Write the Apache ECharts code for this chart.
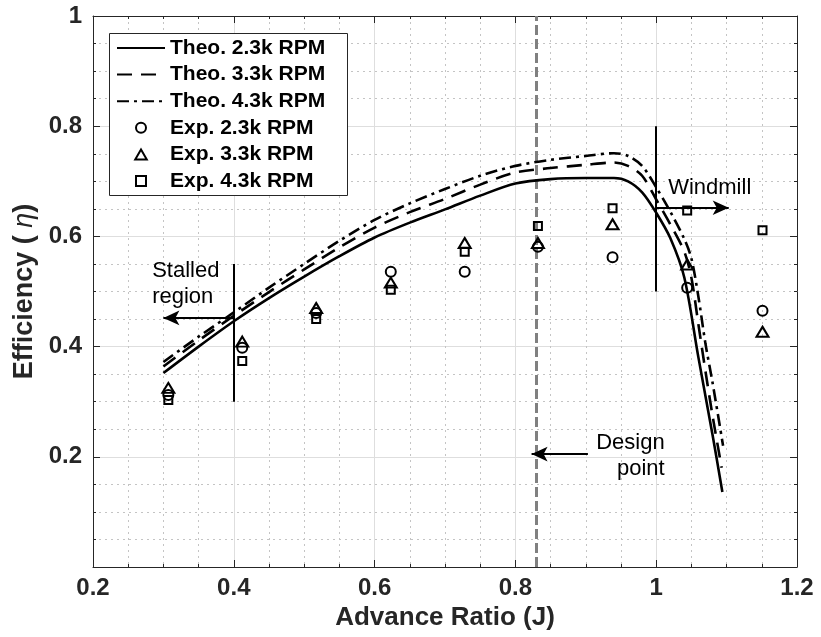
<!DOCTYPE html>
<html>
<head>
<meta charset="utf-8">
<script src="https://cdn.jsdelivr.net/npm/echarts@6/dist/echarts.min.js"></script>
<style>html,body{margin:0;padding:0;background:#fff}#c{width:821px;height:637px}</style>
</head>
<body>
<div id="c"></div>
<script>
// ---- data ----
const J_THEO_23 = [0.30,0.35,0.40,0.45,0.50,0.55,0.60,0.65,0.70,0.75,0.80,0.85,0.90,0.94,0.96,0.98,1.00,1.02,1.04,1.06,1.08,1.094];
const ETA_THEO_23 = [0.352,0.400,0.446,0.488,0.527,0.564,0.598,0.625,0.649,0.674,0.696,0.704,0.706,0.706,0.700,0.680,0.643,0.597,0.525,0.380,0.240,0.136];
const J_THEO_33 = [0.30,0.35,0.40,0.45,0.50,0.55,0.60,0.65,0.70,0.75,0.80,0.85,0.90,0.94,0.96,0.98,1.00,1.02,1.04,1.05,1.06,1.07,1.08,1.093];
const ETA_THEO_33 = [0.364,0.411,0.456,0.499,0.540,0.580,0.616,0.644,0.668,0.694,0.716,0.724,0.730,0.734,0.728,0.710,0.667,0.622,0.572,0.525,0.440,0.355,0.275,0.180];
const J_THEO_43 = [0.30,0.35,0.40,0.45,0.50,0.55,0.60,0.65,0.70,0.75,0.80,0.85,0.90,0.94,0.96,0.98,1.00,1.02,1.04,1.05,1.06,1.07,1.08,1.095];
const ETA_THEO_43 = [0.372,0.418,0.462,0.507,0.550,0.592,0.630,0.660,0.686,0.710,0.728,0.739,0.746,0.751,0.746,0.728,0.689,0.645,0.595,0.560,0.490,0.405,0.335,0.220];

const J_EXP = [0.307,0.412,0.517,0.623,0.728,0.832,0.938,1.044,1.151];
const ETA_EXP_23 = [0.312,0.398,0.461,0.536,0.536,0.581,0.562,0.507,0.465];
const ETA_EXP_33 = [0.325,0.409,0.470,0.516,0.588,0.588,0.622,0.549,0.427];
const ETA_EXP_43 = [0.303,0.374,0.450,0.503,0.572,0.619,0.651,0.647,0.611];

const X_TICKS = [0.2,0.4,0.6,0.8,1.0,1.2];
const Y_TICKS = [0.2,0.4,0.6,0.8,1.0];
const DESIGN_J = 0.83;
const STALL_J = 0.4, STALL_RANGE = [0.3,0.55], STALL_ARROW = [0.452, 0.3];
const WIND_J = 1.0, WIND_RANGE = [0.5,0.8], WIND_ARROW = [0.652, 1.103];
const DESIGN_ARROW = [0.205, 0.903, 0.823];

const NAMES = ['Theo. 2.3k RPM','Theo. 3.3k RPM','Theo. 4.3k RPM','Exp. 2.3k RPM','Exp. 3.3k RPM','Exp. 4.3k RPM'];

// ---- build ----
const zip = (a,b) => a.map((v,i)=>[v,b[i]]);
const INK = '#262626';
const FONT = '"Liberation Sans", Arial, Helvetica, sans-serif';
const chart = echarts.init(document.getElementById('c'), null, {renderer:'canvas'});

const baseX = {type:'value', min:X_TICKS[0], max:X_TICKS[X_TICKS.length-1], interval:0.2};
const baseY = {type:'value', min:0, max:Y_TICKS[Y_TICKS.length-1], interval:0.2};

const theoLine = (name, j, e, dash) => ({
  name, type:'line', data: zip(j,e), symbol:'none', smooth:0.3, z:5,
  lineStyle:{color:'#000', width:2.6, type: dash}, itemStyle:{color:'#000'}
});
const expSeries = (name, e, sym, size) => ({
  name, type:'scatter', data: zip(J_EXP,e), symbol: sym, symbolSize: size, z:6,
  itemStyle:{color:'rgba(0,0,0,0)', borderColor:'#000', borderWidth:2, opacity:1}
});
const sideAxisCommon = {
  axisLine:{show:true, onZero:false, lineStyle:{color:INK, width:1}},
  axisTick:{show:true, inside:true, length:7, lineStyle:{color:INK}},
  minorTick:{show:true, splitNumber:4, length:3, lineStyle:{color:INK}},
  axisLabel:{show:false}, splitLine:{show:false}
};

const option = {
  animation:false,
  backgroundColor:'#fff',
  grid:{left:93, right:24, top:16, bottom:70, show:false},
  xAxis:[
    Object.assign({}, baseX, {
      position:'bottom',
      name:'Advance Ratio (J)', nameLocation:'middle', nameGap:33,
      nameTextStyle:{fontFamily:FONT, fontWeight:'bold', fontSize:26, color:INK},
      axisLine:{show:true, onZero:false, lineStyle:{color:INK, width:1}},
      axisTick:{show:true, inside:true, length:7, lineStyle:{color:INK}},
      axisLabel:{fontFamily:FONT, fontWeight:'bold', fontSize:24, color:INK, margin:9,
                 formatter: v => String(+v.toFixed(2))},
      splitLine:{show:true, lineStyle:{color:'#dedede', width:1}},
      minorTick:{show:true, splitNumber:4, length:3, lineStyle:{color:INK}},
      minorSplitLine:{show:true, lineStyle:{color:'#c4c4c4', width:1, type:[2,4]}}
    }),
    Object.assign({}, baseX, {position:'top'}, sideAxisCommon)
  ],
  yAxis:[
    Object.assign({}, baseY, {
      position:'left',
      name:'{a|Efficiency ( }{b|η}{a|)}', nameLocation:'middle', nameGap:54,
      nameTextStyle:{rich:{
        a:{fontFamily:FONT, fontWeight:'bold', fontSize:27, color:INK},
        b:{fontFamily:FONT, fontStyle:'italic', fontSize:27, color:INK}
      }},
      axisLine:{show:true, onZero:false, lineStyle:{color:INK, width:1}},
      axisTick:{show:true, inside:true, length:7, lineStyle:{color:INK}},
      axisLabel:{fontFamily:FONT, fontWeight:'bold', fontSize:24, color:INK, margin:11,
                 formatter: v => v === 0 ? '' : String(+v.toFixed(2))},
      splitLine:{show:true, lineStyle:{color:'#dedede', width:1}},
      minorTick:{show:true, splitNumber:4, length:3, lineStyle:{color:INK}},
      minorSplitLine:{show:true, lineStyle:{color:'#c4c4c4', width:1, type:[2,4]}}
    }),
    Object.assign({}, baseY, {position:'right'}, sideAxisCommon)
  ],
  legend:{
    orient:'vertical', left:116, top:37, padding:0, itemWidth:48, itemHeight:10, itemGap:4.6,
    selectedMode:false, z:10,
    textStyle:{fontFamily:FONT, fontWeight:'bold', fontSize:21, lineHeight:22, color:'#000'},
    data:[
      {name:NAMES[0], itemStyle:{opacity:0}},
      {name:NAMES[1], itemStyle:{opacity:0}},
      {name:NAMES[2], itemStyle:{opacity:0}},
      {name:NAMES[3], icon:'circle'},
      {name:NAMES[4], icon:'path://M0,8.66L5,0L10,8.66Z'},
      {name:NAMES[5], icon:'path://M0,0L8,0L8,8L0,8Z'}
    ]
  },
  series:[
    {
      name:'design', type:'line', data:[[DESIGN_J,0],[DESIGN_J,1]], symbol:'none', z:3,
      lineStyle:{color:'#808080', width:3, type:[10,4]}, silent:true
    },
    {
      name:'annot', type:'line', data:[], z:4, silent:true,
      markLine:{
        silent:true, symbol:['none','none'], label:{show:false},
        lineStyle:{color:'#000', width:2, type:'solid'},
        data:[
          [{coord:[STALL_J,STALL_RANGE[0]]},{coord:[STALL_J,STALL_RANGE[1]]}],
          [{coord:[WIND_J,WIND_RANGE[0]]},{coord:[WIND_J,WIND_RANGE[1]]}],
          [{coord:[STALL_J,STALL_ARROW[0]], symbol:'none'},{coord:[STALL_ARROW[1],STALL_ARROW[0]], symbol:'arrow', symbolSize:[11,16]}],
          [{coord:[WIND_J,WIND_ARROW[0]], symbol:'none'},{coord:[WIND_ARROW[1],WIND_ARROW[0]], symbol:'arrow', symbolSize:[11,16]}],
          [{coord:[DESIGN_ARROW[1],DESIGN_ARROW[0]], symbol:'none'},{coord:[DESIGN_ARROW[2],DESIGN_ARROW[0]], symbol:'arrow', symbolSize:[11,16]}]
        ]
      }
    },
    theoLine(NAMES[0], J_THEO_23, ETA_THEO_23, 'solid'),
    theoLine(NAMES[1], J_THEO_33, ETA_THEO_33, [15,9]),
    theoLine(NAMES[2], J_THEO_43, ETA_THEO_43, [12,5,3,5]),
    expSeries(NAMES[3], ETA_EXP_23, 'circle', 10),
    expSeries(NAMES[4], ETA_EXP_33, 'triangle', [12,10]),
    expSeries(NAMES[5], ETA_EXP_43, 'rect', 8)
  ]
};
chart.setOption(option);

// annotation texts, placed through the axes' scales
const P = (j,e) => chart.convertToPixel({xAxisIndex:0, yAxisIndex:0}, [j,e]);
const txtStyle = {fontFamily:FONT, fontSize:22, fill:'#000', lineHeight:26};
const sp = P(0.284, 0.514), wp = P(1.017, 0.688), dp = P(1.012, 0.201);
chart.setOption({graphic:[
  {type:'rect', z:8, shape:{x:109.5, y:33.5, width:238, height:162}, style:{fill:'#fff', stroke:INK, lineWidth:1}},
  {type:'text', z:9, x:sp[0], y:sp[1], style:Object.assign({text:'Stalled\nregion', align:'left', verticalAlign:'middle'}, txtStyle)},
  {type:'text', z:9, x:wp[0], y:wp[1], style:Object.assign({text:'Windmill', align:'left', verticalAlign:'middle'}, txtStyle)},
  {type:'text', z:9, x:dp[0], y:dp[1], style:Object.assign({text:'Design\npoint', align:'right', verticalAlign:'middle'}, txtStyle)}
]});
</script>
</body>
</html>
